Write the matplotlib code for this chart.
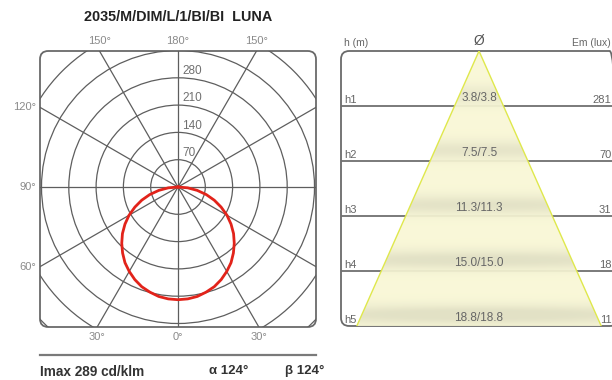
import numpy as np
import matplotlib
matplotlib.use('Agg')
import matplotlib.pyplot as plt
from matplotlib.patches import FancyBboxPatch, Polygon
from matplotlib.lines import Line2D

plt.rcParams['font.family'] = ['Liberation Sans', 'DejaVu Sans']

# luminaire data
title = '2035/M/DIM/L/1/BI/BI  LUNA'
imax = 289
alpha_deg = 124
beta_deg = 124

# intensity curve (cd/klm), gamma measured from nadir
gamma = list(range(-90, 95, 5))
intensity = [0, 25, 50, 75, 99, 122, 145, 166, 186, 204, 221, 237, 250, 262, 272, 279, 285, 288,
             289,
             288, 285, 279, 272, 262, 250, 237, 221, 204, 186, 166, 145, 122, 99, 75, 50, 25, 0]

grid_rings = [70, 140, 210, 280, 350, 420, 490]
ring_labels = [70, 140, 210, 280]
angle_labels = [(180, '180°'), (150, '150°'), (-150, '150°'), (-120, '120°'), (-90, '90°'),
                (-60, '60°'), (-30, '30°'), (0, '0°'), (30, '30°')]

# illuminance table
rows = ['h1', 'h2', 'h3', 'h4', 'h5']
diameters = [3.8, 7.5, 11.3, 15.0, 18.8]
lux = [281, 70, 31, 18, 11]

W, H = 612, 380
fig = plt.figure(figsize=(W / 100, H / 100), dpi=100)


def px_axes(x0, y0, x1, y1):
    return fig.add_axes([x0 / W, 1 - y1 / H, (x1 - x0) / W, (y1 - y0) / H])


grid_col = '#5e5e5e'
label_col = '#707070'

# ---- polar diagram ----
scale = 0.39  # px per cd/klm
cx, cy = 178, 187
ax = px_axes(40, 51, 316, 327)
ax.set_xlim((40 - cx) / scale, (316 - cx) / scale)
ax.set_ylim(-(327 - cy) / scale, (cy - 51) / scale)
ax.axis('off')

box = FancyBboxPatch((0, 0), 1, 1, boxstyle='round,pad=0,rounding_size=0.03',
                     transform=ax.transAxes, fc='none', ec='#6a6a6a', lw=1.3, clip_on=False)
ax.add_patch(box)

for r in grid_rings:
    c = plt.Circle((0, 0), r, fill=False, ec=grid_col, lw=0.9)
    ax.add_patch(c)
    c.set_clip_path(box)

for a in range(0, 360, 30):
    t = np.radians(a)
    ln, = ax.plot([0, 1000 * np.sin(t)], [0, -1000 * np.cos(t)], color=grid_col, lw=0.9)
    ln.set_clip_path(box)

for v in ring_labels:
    ax.annotate(str(v), xy=(0, v), xytext=(3, 0.5), textcoords='offset points',
                ha='left', va='bottom', fontsize=8.5, color=label_col)

g = np.radians(gamma)
I = np.array(intensity)
curve, = ax.plot(I * np.sin(g), -I * np.cos(g), color='#e2231a', lw=2, zorder=5)
curve.set_clip_path(box)

xl, yl = ax.get_xlim(), ax.get_ylim()
for a, txt in angle_labels:
    t = np.radians(a)
    dx, dy = np.sin(t), -np.cos(t)
    hits = []
    if abs(dx) > 1e-9:
        hits.append(((xl[1] if dx > 0 else xl[0]) / dx, 'side'))
    if abs(dy) > 1e-9:
        hits.append(((yl[1] if dy > 0 else yl[0]) / dy, 'top' if dy > 0 else 'bottom'))
    k, edge = min(hits)
    if edge == 'top':
        off, ha, va = (0, 7.5), 'center', 'center'
    elif edge == 'bottom':
        off, ha, va = (0, -7.5), 'center', 'center'
    else:
        off, ha, va = (-3, 0), 'right', 'center'
    ax.annotate(txt, xy=(k * dx, k * dy), xytext=off, textcoords='offset points',
                ha=ha, va=va, fontsize=8, color='#8a8a8a', annotation_clip=False)

fig.text(178 / W, 1 - 17 / H, title, ha='center', va='center', fontsize=10.4,
         fontweight='bold', color='#222222')

fig.add_artist(Line2D([40 / W, 316 / W], [1 - 355 / H] * 2, color='#7a7a7a', lw=1.6))
fig.text(40 / W, 1 - 372 / H, f'Imax {imax} cd/klm', ha='left', va='center', fontsize=9.8,
         fontweight='bold', color='#333333')
fig.text(209 / W, 1 - 371 / H, f'\u03b1 {alpha_deg}°', ha='left', va='center', fontsize=9.5,
         fontweight='bold', color='#333333')
fig.text(285 / W, 1 - 371 / H, f'\u03b2 {beta_deg}°', ha='left', va='center', fontsize=9.5,
         fontweight='bold', color='#333333')

# ---- illuminance cone ----
kx = 13.0  # px per metre
apex_x = 479
n = len(rows)
ax2 = px_axes(341, 51, 618, 326)
ax2.axis('off')

box2 = FancyBboxPatch((0, 0), 1, 1, boxstyle='round,pad=0,rounding_size=0.03',
                      transform=ax2.transAxes, fc='none', ec='#6a6a6a', lw=1.3, clip_on=False)
ax2.add_patch(box2)

for k in range(1, n):
    ax2.axhline(k, color='#707070', lw=1.3, zorder=1)

half = diameters[-1] / 2
tri = Polygon([(0, 0), (-half, n), (half, n)], closed=True, transform=ax2.transData)

# soft shading bands across the cone
yy = np.linspace(0, n, 400)[:, None]
xx = np.linspace(-half, half, 400)[None, :]
shade = np.zeros((400, 400))
for k in range(1, n + 1):
    shade += (0.55 + 0.12 * k) * np.exp(-((yy - (k - 0.2)) / 0.18) ** 2) * (1 - 0.25 * (xx / half) ** 2)
shade = np.clip(shade, 0, 1)
base = np.array([0.978, 0.972, 0.84])
dark = np.array([0.88, 0.875, 0.76])
img = base + (dark - base) * shade[..., None]
im = ax2.imshow(img, extent=(-half, half, n, 0), aspect='auto', zorder=2,
                interpolation='bilinear', alpha=0.94)
im.set_clip_path(tri)
ax2.plot([-half, 0, half], [n, 0, n], color='#dfe84c', lw=1, zorder=4)

ax2.set_xlim((341 - apex_x) / kx, (618 - apex_x) / kx)
ax2.set_ylim(n, 0)

ax2.annotate('h (m)', xy=(0, 0), xycoords=('axes fraction', 'data'), xytext=(2, 2),
             textcoords='offset points', ha='left', va='bottom', fontsize=7.5, color='#666666')
ax2.annotate('Ø', xy=(0, 0), xytext=(0, 2), textcoords='offset points',
             ha='center', va='bottom', fontsize=10, color='#555555')
ax2.annotate('Em (lux)', xy=(611 / W, 0), xycoords=('figure fraction', 'data'), xytext=(0, 2),
             textcoords='offset points', ha='right', va='bottom', fontsize=7.5, color='#666666',
             annotation_clip=False)

for k, (name, d, e) in enumerate(zip(rows, diameters, lux), start=1):
    ax2.annotate(name, xy=(0, k), xycoords=('axes fraction', 'data'), xytext=(2, 1),
                 textcoords='offset points', ha='left', va='bottom', fontsize=8, color='#666666',
                 zorder=6)
    ax2.annotate(f'{d:.1f}/{d:.1f}', xy=(0, k), xytext=(0, 1.5), textcoords='offset points',
                 ha='center', va='bottom', fontsize=8.5, color='#666666', zorder=6)
    ax2.annotate(str(e), xy=(611.5 / W, k), xycoords=('figure fraction', 'data'), xytext=(0, 1),
                 textcoords='offset points', ha='right', va='bottom', fontsize=8, color='#666666',
                 annotation_clip=False, zorder=6)

fig.savefig('out.png', dpi=100)
